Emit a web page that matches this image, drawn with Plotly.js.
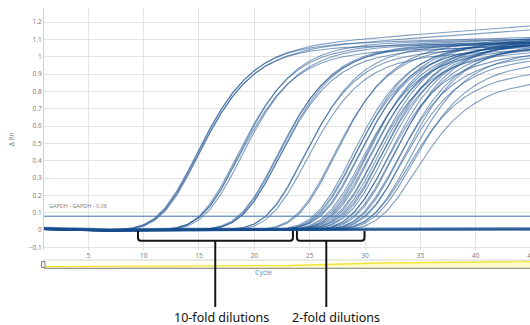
<!DOCTYPE html>
<html>
<head>
<meta charset="utf-8">
<script src="https://cdn.plot.ly/plotly-3.0.1.min.js"></script>
<style>
  html, body { margin: 0; padding: 0; overflow: hidden; background: #fff; }
  #chart { width: 540px; height: 325px; }
</style>
</head>
<body>
<div id="chart"></div>
<script>
// Amplification plot (GAPDH): ΔRn per cycle for each well.
const cycles = [1,2,3,4,5,6,7,8,9,10,11,12,13,14,15,16,17,18,19,20,21,22,23,24,25,
                26,27,28,29,30,31,32,33,34,35,36,37,38,39,40,41,42,43,44,45];

// Residual baseline shape after baseline subtraction (shared by all wells).
const baselineShape = [0.006,0.004,0.002,0.000,-0.002,-0.003,-0.003,-0.002,-0.001,0.000,
                       0.000,0.000,0.000,0.000,0.000,0.000,0.000,0.000,0.000,0.000,
                       0.000,0.000,0.000,0.000,0.000,0.000,0.000,0.000,0.000,0.000,
                       0.000,0.000,0.000,0.000,0.000,0.000,0.000,0.000,0.000,0.000,
                       0.001,0.002,0.002,0.003,0.003];

// Per-well fit: cycle at half plateau, plateau height, plateau drift per cycle, baseline offset.
// Wells 1-15: 10-fold dilutions (4 levels); wells 16-45: 2-fold dilutions.
const wellHalfCycle = [
  15.45, 15.55, 15.60, 15.70,
  19.20, 19.35, 19.45, 19.60,
  22.80, 22.90, 23.00, 23.10,
  25.20, 25.35, 25.50,
  27.90, 28.05,
  29.60, 29.70, 29.90, 30.10, 30.30, 30.50, 30.80, 31.00, 31.10, 31.30, 31.50, 31.70, 31.90,
  32.10, 32.30, 32.50, 32.70, 32.90, 33.20, 33.40, 33.60, 33.90, 34.10, 34.30, 34.60, 34.80,
  35.00, 35.30
];
const wellPlateau = [
  1.04, 1.03, 1.06, 1.05,
  1.05, 1.02, 1.07, 1.04,
  1.04, 1.06, 1.02, 1.05,
  1.03, 1.05, 1.00,
  1.04, 1.06,
  1.05, 1.02, 1.07, 1.03, 1.06, 1.00, 1.04, 1.08, 1.02, 1.05, 0.99, 1.06,
  1.03, 1.01, 1.07, 1.04, 0.98, 1.05, 1.02, 1.06, 0.97, 1.03, 0.95, 1.04, 0.88, 1.00,
  0.93, 0.83
];
const wellDrift = [
  0.0045, 0.0042, 0.0015, 0.0010,
  0.0020, 0.0015, 0.0010, 0.0020,
  0.0015, 0.0010, 0.0020, 0.0010,
  0.0010, 0.0015, 0.0020,
  0.0020, 0.0025,
  0.0020, 0.0030, 0.0015, 0.0025, 0.0020, 0.0030, 0.0020, 0.0015, 0.0030, 0.0020, 0.0025, 0.0020,
  0.0030, 0.0020, 0.0015, 0.0025, 0.0030, 0.0020, 0.0025, 0.0020, 0.0030, 0.0020, 0.0030, 0.0025,
  0.0030, 0.0020, 0.0030, 0.0030
];
const wellBase = [
  0.002, -0.002, 0.004, 0.000,
  -0.003, 0.001, 0.003, -0.001,
  0.002, -0.002, 0.000, 0.004,
  -0.001, 0.003, -0.003,
  0.001, -0.002,
  0.003, 0.000, -0.002, 0.002, 0.004, -0.001, 0.001, -0.003, 0.002, 0.000, 0.003, -0.002,
  0.001, 0.004, -0.001, 0.002, -0.003, 0.000, 0.003, 0.001, -0.002, 0.002, 0.004, 0.000,
  -0.001, 0.003, 0.001, -0.002
];

// No-template / non-amplifying wells: flat ΔRn level.
const ntcLevel = [0.000, 0.002, 0.006, 0.010, -0.002];

const threshold = 0.08;
const thresholdLabel = 'GAPDH - GAPDH - 0.08';

// Sigmoid model parameters shared by the fit.
const slopeScale = 2.8;
const asymmetry = 5;

function fitValue(c, half, plateau, drift) {
  const uHalf = -Math.log(Math.pow(2, 1 / asymmetry) - 1);
  const u = (c - half) / slopeScale + uHalf;
  const frac = Math.pow(1 + Math.exp(-u), -asymmetry);
  return (plateau + drift * (c - half)) * frac;
}

const lineColor = 'rgba(24, 78, 142, 0.55)';
const traces = [];

wellHalfCycle.forEach((half, i) => {
  traces.push({
    type: 'scatter', mode: 'lines',
    x: cycles,
    y: cycles.map((c, k) => fitValue(c, half, wellPlateau[i], wellDrift[i]) + baselineShape[k] + wellBase[i]),
    line: { color: lineColor, width: 1.1 },
    hoverinfo: 'skip', showlegend: false
  });
});

ntcLevel.forEach(level => {
  traces.push({
    type: 'scatter', mode: 'lines',
    x: cycles,
    y: cycles.map((c, k) => level + baselineShape[k]),
    line: { color: 'rgba(24, 78, 142, 0.7)', width: 1.2 },
    hoverinfo: 'skip', showlegend: false
  });
});

// Paper-coordinate helpers for the plot frame (left 44px, width 490px, top 8px, height 242px).
const L = 44, W = 490, T = 8, H = 242;
const px = x => (x - L) / W;
const py = y => (T + H - y) / H;

// Bracket path in (cycle, paper-y) space.
function bracketPath(x0, x1, yTop, yBot) {
  const rx = 0.25, ry = 0.012;
  return `M ${x0},${yTop} L ${x0},${yBot + ry} Q ${x0},${yBot} ${x0 + rx},${yBot} ` +
         `L ${x1 - rx},${yBot} Q ${x1},${yBot} ${x1},${yBot + ry} L ${x1},${yTop}`;
}

const tenFold = { from: 9.49, to: 23.49, stem: 16.47 };
const twoFold = { from: 23.85, to: 29.95, stem: 26.5 };
const brTop = py(231), brBot = py(240.7), stemEnd = py(307);

const shapes = [
  // threshold line
  { type: 'line', xref: 'paper', yref: 'y', x0: 0, x1: 1, y0: threshold, y1: threshold,
    line: { color: '#3f72ad', width: 1 }, layer: 'above' },
  // overview strip below the axis
  { type: 'rect', xref: 'paper', yref: 'paper', x0: px(44), x1: px(545), y0: py(268), y1: py(260),
    line: { color: '#d4d4d4', width: 1 }, fillcolor: '#fffff4', layer: 'above' },
  { type: 'path', xref: 'paper', yref: 'paper',
    path: `M ${px(44)},${py(268)} L ${px(44)},${py(266.6)} L ${px(290)},${py(265.5)} L ${px(380)},${py(263)} L ${px(545)},${py(261.5)} L ${px(545)},${py(268)} Z`,
    line: { width: 0 }, fillcolor: 'rgba(255, 250, 170, 0.55)', layer: 'above' },
  { type: 'path', xref: 'paper', yref: 'paper',
    path: `M ${px(44)},${py(266.6)} L ${px(290)},${py(265.5)} L ${px(380)},${py(263)} L ${px(545)},${py(261.5)}`,
    line: { color: '#f3e33a', width: 1.4 }, layer: 'above' },
  { type: 'line', xref: 'paper', yref: 'paper', x0: px(44), x1: px(545), y0: py(268.3), y1: py(268.3),
    line: { color: '#9a9a9a', width: 1.2 }, layer: 'above' },
  { type: 'rect', xref: 'paper', yref: 'paper', x0: px(41.5), x1: px(45), y0: py(267.5), y1: py(261.5),
    line: { color: '#888', width: 1 }, fillcolor: '#eee', layer: 'above' },
  // brackets and stems
  { type: 'path', xref: 'x', yref: 'paper', path: bracketPath(tenFold.from, tenFold.to, brTop, brBot),
    line: { color: '#151515', width: 2 }, layer: 'above' },
  { type: 'path', xref: 'x', yref: 'paper', path: bracketPath(twoFold.from, twoFold.to, brTop, brBot),
    line: { color: '#151515', width: 2 }, layer: 'above' },
  { type: 'line', xref: 'x', yref: 'paper', x0: tenFold.stem, x1: tenFold.stem, y0: brBot, y1: stemEnd,
    line: { color: '#151515', width: 2 }, layer: 'above' },
  { type: 'line', xref: 'x', yref: 'paper', x0: twoFold.stem, x1: twoFold.stem, y0: brBot, y1: stemEnd,
    line: { color: '#151515', width: 2 }, layer: 'above' }
];

const annotations = [
  { xref: 'paper', yref: 'y', x: px(47), y: threshold, yshift: 4, xanchor: 'left', yanchor: 'bottom',
    text: thresholdLabel, showarrow: false, font: { size: 5.5, color: '#777' } },
  { xref: 'paper', yref: 'paper', x: px(11), y: py(140), text: 'Δ Rn', textangle: -90,
    xanchor: 'center', yanchor: 'middle',
    showarrow: false, font: { size: 6.5, color: '#777' } },
  { xref: 'paper', yref: 'paper', x: px(263), y: py(272), text: 'Cycle',
    xanchor: 'center', yanchor: 'middle',
    showarrow: false, font: { size: 7, color: '#5b8ac4' } },
  { xref: 'paper', yref: 'paper', x: px(221), y: py(317), text: '10-fold dilutions',
    xanchor: 'center', yanchor: 'middle',
    showarrow: false, font: { size: 12.5, color: '#111', family: 'Noto Sans' } },
  { xref: 'paper', yref: 'paper', x: px(336), y: py(317.5), text: '2-fold dilutions',
    xanchor: 'center', yanchor: 'middle',
    showarrow: false, font: { size: 12.5, color: '#111', family: 'Noto Sans' } }
];

const layout = {
  width: 540, height: 325,
  margin: { l: L, r: 540 - L - W, t: T, b: 325 - T - H },
  paper_bgcolor: '#fff', plot_bgcolor: '#fff',
  font: { family: 'Open Sans', size: 6.5, color: '#777' },
  showlegend: false,
  hovermode: false,
  xaxis: {
    range: [1, 1 + W / 11.07],
    tickvals: [5, 10, 15, 20, 25, 30, 35, 40, 45],
    showgrid: true, gridcolor: '#e4e4e4', gridwidth: 1,
    zeroline: false, showline: false, ticks: '',
    tickfont: { size: 6.5, color: '#777' }
  },
  yaxis: {
    range: [-0.115, 1.281],
    tickvals: [-0.1, 0, 0.1, 0.2, 0.3, 0.4, 0.5, 0.6, 0.7, 0.8, 0.9, 1, 1.1, 1.2],
    showgrid: true, gridcolor: '#e4e4e4', gridwidth: 1,
    zeroline: false, showline: true, linecolor: '#d0d0d0', linewidth: 1, ticks: '',
    tickfont: { size: 6.5, color: '#777' }
  },
  shapes: shapes,
  annotations: annotations
};

Plotly.newPlot('chart', traces, layout, { staticPlot: true, displayModeBar: false });
</script>
</body>
</html>
